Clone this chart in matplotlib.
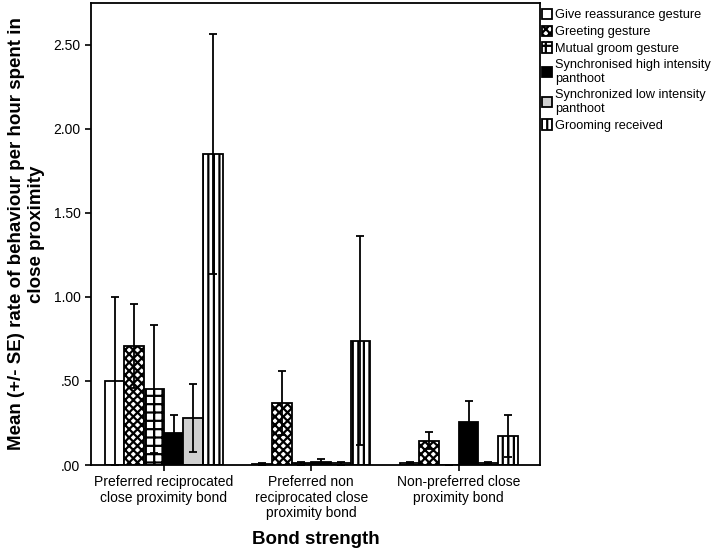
import numpy as np
import matplotlib.pyplot as plt

groups = ['Preferred reciprocated\nclose proximity bond',
          'Preferred non\nreciprocated close\nproximity bond',
          'Non-preferred close\nproximity bond']
series = ['Give reassurance gesture', 'Greeting gesture', 'Mutual groom gesture',
          'Synchronised high intensity\npanthoot', 'Synchronized low intensity\npanthoot',
          'Grooming received']

# means per series (rows) for each group (cols)
means = [
    [0.50, 0.005, 0.01],
    [0.71, 0.37, 0.145],
    [0.45, 0.01, 0.0],
    [0.19, 0.02, 0.255],
    [0.28, 0.01, 0.01],
    [1.85, 0.74, 0.17],
]
errs = [
    [0.50, 0.005, 0.005],
    [0.25, 0.19, 0.05],
    [0.38, 0.01, 0.0],
    [0.11, 0.015, 0.125],
    [0.20, 0.01, 0.005],
    [0.715, 0.62, 0.125],
]

faces = ['white', 'white', 'white', 'black', '#d0d0d0', 'white']
hatches = [None, 'xxxx', '++', None, None, '|||']

plt.rcParams['font.family'] = 'Liberation Sans'
plt.rcParams['hatch.linewidth'] = 1.6

fig = plt.figure(figsize=(7.15, 5.49), dpi=100)
ax = fig.add_axes([0.127, 0.153, 0.628, 0.842])

x = np.arange(len(groups))
w = 0.8 / len(series)
for i, name in enumerate(series):
    pos = x - 0.4 + w * (i + 0.5)
    ax.bar(pos, means[i], w, color=faces[i], edgecolor='black', hatch=hatches[i],
           linewidth=1.3, label=name)
    ax.errorbar(pos, means[i], yerr=errs[i], fmt='none', ecolor='black',
                elinewidth=1.3, capsize=3, capthick=1.3)

ax.set_xlim(-0.495, 2.55)
ax.set_ylim(0, 2.75)
ax.set_yticks([0, 0.5, 1.0, 1.5, 2.0, 2.5])
ax.set_yticklabels(['.00', '.50', '1.00', '1.50', '2.00', '2.50'], fontsize=10)
ax.set_xticks(x)
ax.set_xticklabels(groups, fontsize=10, linespacing=1.1)
ax.tick_params(length=4, width=1.2)
for s in ax.spines.values():
    s.set_linewidth(1.3)

ax.set_ylabel('Mean (+/- SE) rate of behaviour per hour spent in\nclose proximity',
              fontsize=13.5, fontweight='bold', labelpad=6)
ax.set_xlabel('Bond strength', fontsize=13.5, fontweight='bold', labelpad=8)

ax.legend(loc='upper left', bbox_to_anchor=(0.993, 0.998), frameon=False, fontsize=9.2,
          handlelength=0.8, handleheight=0.9, handletextpad=0.25, labelspacing=0.32,
          borderaxespad=0.0)

fig.savefig('out.png', dpi=100)
